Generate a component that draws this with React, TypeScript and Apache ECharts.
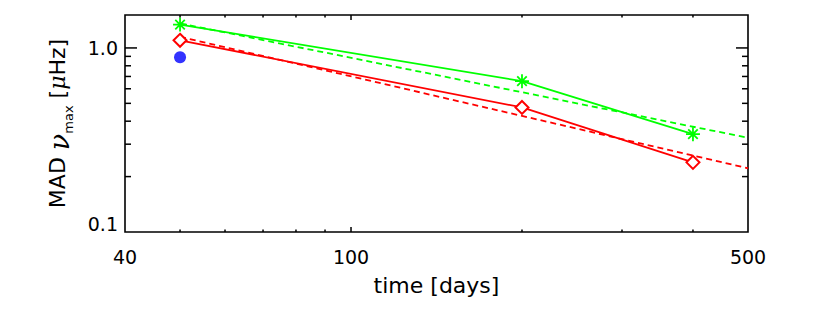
import React, { useEffect, useRef } from 'react';
import * as echarts from 'echarts';

// axis ranges
const xRange = [40, 500];
const yRange = [0.1, 1.51];

// measured points (time [days], MAD numax [muHz])
const greenTimes = [50, 200, 400];
const greenMad = [1.34, 0.66, 0.34];
const redTimes = [50, 200, 400];
const redMad = [1.1, 0.475, 0.239];
// power-law fits (dashed)
const greenFitTimes = [50, 500];
const greenFitMad = [1.36, 0.325];
const redFitTimes = [50, 500];
const redFitMad = [1.15, 0.222];
// single blue point
const blueTimes = [50];
const blueMad = [0.89];

// tick positions
const xMajorTicks = [100];
const xMinorTicks = [50, 60, 70, 80, 90, 200, 300, 400];
const yMajorTicks = [1.0];
const yMinorTicks = [0.2, 0.3, 0.4, 0.5, 0.6, 0.7, 0.8, 0.9];

const zip = (a: number[], b: number[]) => a.map((v, i) => [v, b[i]]);

const FONT = 'DejaVu Sans';

export default function App() {
  const ref = useRef<HTMLDivElement>(null);
  useEffect(() => {
    if (!ref.current) return;
    const chart = echarts.init(ref.current, null, { renderer: 'svg' });

    const tickData = [
      ...xMajorTicks.map((v) => [v, 1, 0, 1]),
      ...xMinorTicks.map((v) => [v, 1, 0, 0]),
      ...yMajorTicks.map((v) => [100, v, 1, 1]),
      ...yMinorTicks.map((v) => [100, v, 1, 0]),
    ];

    const option: any = {
      animation: false,
      backgroundColor: '#fff',
      grid: {
        left: 125,
        top: 15,
        width: 623,
        height: 217,
        show: true,
        borderColor: '#000',
        borderWidth: 1.6,
        backgroundColor: 'transparent',
      },
      xAxis: {
        type: 'log',
        logBase: 10,
        min: xRange[0],
        max: xRange[1],
        axisLine: { show: false },
        axisTick: { show: false },
        splitLine: { show: false },
        axisLabel: {
          show: true,
          showMinLabel: true,
          showMaxLabel: true,
          color: '#000',
          fontFamily: FONT,
          fontSize: 19,
          margin: 15,
          formatter: (v: number) => String(Math.round(v)),
        },
        name: 'time [days]',
        nameLocation: 'middle',
        nameGap: 42,
        nameTextStyle: { color: '#000', fontFamily: FONT, fontSize: 22 },
      },
      yAxis: {
        type: 'log',
        logBase: 10,
        min: yRange[0],
        max: yRange[1],
        axisLine: { show: false },
        axisTick: { show: false },
        splitLine: { show: false },
        axisLabel: {
          show: true,
          showMinLabel: true,
          showMaxLabel: false,
          color: '#000',
          fontFamily: FONT,
          fontSize: 19,
          margin: 7,
          formatter: (v: number) =>
            v < 0.15 ? '{lo|' + v.toFixed(1) + '}' : '{n|' + v.toFixed(1) + '}',
          rich: {
            lo: { fontFamily: FONT, fontSize: 19, color: '#000', padding: [0, 0, 16, 0] },
            n: { fontFamily: FONT, fontSize: 19, color: '#000' },
          },
        },
        name: '{a|MAD }{nu|ν}{sub|max}{a| [}{mu|μ}{a|Hz]}',
        nameLocation: 'middle',
        nameGap: 50,
        nameTextStyle: {
          color: '#000',
          fontFamily: FONT,
          fontSize: 22,
          rich: {
            a: { fontFamily: FONT, fontSize: 22, color: '#000', lineHeight: 22, verticalAlign: 'top' },
            nu: {
              fontFamily: 'DejaVu Serif',
              fontStyle: 'italic',
              fontSize: 27,
              color: '#000',
              lineHeight: 22,
              verticalAlign: 'top',
            },
            mu: {
              fontFamily: 'DejaVu Serif',
              fontStyle: 'italic',
              fontSize: 22,
              color: '#000',
              lineHeight: 22,
              verticalAlign: 'top',
            },
            sub: { fontFamily: FONT, fontSize: 13, color: '#000', lineHeight: 29, verticalAlign: 'bottom' },
          },
        },
      },
      series: [
        {
          type: 'custom',
          z: 10,
          clip: false,
          silent: true,
          encode: { x: 0, y: 1 },
          data: tickData,
          renderItem: (params: any, api: any) => {
            const cs = params.coordSys;
            const left = cs.x;
            const top = cs.y;
            const right = cs.x + cs.width;
            const bottom = cs.y + cs.height;
            const kind = api.value(2);
            const major = api.value(3);
            const style = { stroke: '#000', lineWidth: 1.5 };
            if (kind === 0) {
              const px = api.coord([api.value(0), 1])[0];
              const len = major ? 5 : 2.5;
              return {
                type: 'group',
                children: [
                  { type: 'line', shape: { x1: px, y1: bottom, x2: px, y2: bottom - len }, style },
                  { type: 'line', shape: { x1: px, y1: top, x2: px, y2: top + len }, style },
                ],
              };
            }
            const py = api.coord([100, api.value(1)])[1];
            const len = major ? 12 : 6;
            return {
              type: 'group',
              children: [
                { type: 'line', shape: { x1: left, y1: py, x2: left + len, y2: py }, style },
                { type: 'line', shape: { x1: right, y1: py, x2: right - len, y2: py }, style },
              ],
            };
          },
        },
        {
          type: 'line',
          data: zip(greenFitTimes, greenFitMad),
          symbol: 'none',
          lineStyle: { color: '#00ff00', width: 1.8, type: [6, 4] },
          z: 2,
        },
        {
          type: 'line',
          data: zip(redFitTimes, redFitMad),
          symbol: 'none',
          lineStyle: { color: '#ff0000', width: 1.8, type: [6, 4] },
          z: 2,
        },
        {
          type: 'line',
          data: zip(greenTimes, greenMad),
          symbol: 'path://M5,0 L5,10 M0,5 L10,5 M1.6,1.6 L8.4,8.4 M1.6,8.4 L8.4,1.6',
          symbolSize: 14,
          showAllSymbol: true,
          itemStyle: { color: '#00ff00', borderColor: '#00ff00', borderWidth: 1.8 },
          lineStyle: { color: '#00ff00', width: 1.8 },
          z: 3,
        },
        {
          type: 'line',
          data: zip(redTimes, redMad),
          symbol: 'emptyDiamond',
          symbolSize: 13,
          showAllSymbol: true,
          itemStyle: { color: '#ff0000', borderColor: '#ff0000', borderWidth: 1.5 },
          lineStyle: { color: '#ff0000', width: 1.8 },
          z: 3,
        },
        {
          type: 'scatter',
          data: zip(blueTimes, blueMad),
          symbol: 'circle',
          symbolSize: 12,
          itemStyle: { color: '#0000ff' },
          z: 4,
        },
      ],
    };
    chart.setOption(option);
    return () => chart.dispose();
  }, []);
  return (
    <div
      ref={ref}
      style={{ position: 'fixed', left: 0, top: 0, width: 830, height: 311, background: '#fff' }}
    />
  );
}
